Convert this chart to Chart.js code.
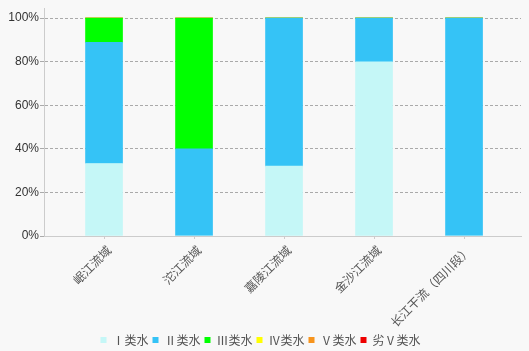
<!DOCTYPE html>
<html>
<head>
<meta charset="utf-8">
<script src="https://cdn.jsdelivr.net/npm/chart.js@4/dist/chart.umd.min.js"></script>
<style>
    html, body { margin: 0; padding: 0; background: #f8f8f8; }
    #wrap { width: 529px; height: 351px; }
</style>
</head>
<body>
<div id="wrap"><canvas id="chart"></canvas></div>
<script>
// basins along the x axis
const basins = ["岷江流域", "沱江流域", "嘉陵江流域", "金沙江流域", "长江干流（四川段）"];

// share of sections per water quality class (%)
const class1 = [33.3, 0, 32.1, 80, 0];
const class2 = [55.6, 40, 67.9, 20, 100];
const class3 = [11.1, 60, 0, 0, 0];
const class4 = [0, 0, 0, 0, 0];
const class5 = [0, 0, 0, 0, 0];
const classWorse5 = [0, 0, 0, 0, 0];

const yTicks = [0, 20, 40, 60, 80, 100];

const CJK = "'Noto Sans CJK SC', sans-serif";

function toPoints(values) {
    return values.map((v, i) => ({ x: i, y: v }));
}

function makeSet(label, values, color) {
    return {
        label,
        data: toPoints(values),
        backgroundColor: color,
        borderWidth: 0,
        barThickness: 37
    };
}

new Chart(document.getElementById("chart"), {
    type: "bar",
    data: {
        datasets: [
            makeSet("Ⅰ类水", class1, "#c5f7f7"),
            makeSet("Ⅱ类水", class2, "#35c3f6"),
            makeSet("Ⅲ类水", class3, "#00ff00"),
            makeSet("Ⅳ类水", class4, "#ffff00"),
            makeSet("Ⅴ类水", class5, "#f7941d"),
            makeSet("劣Ⅴ类水", classWorse5, "#ee0000")
        ]
    },
    options: {
        responsive: true,
        maintainAspectRatio: false,
        animation: false,
        layout: { padding: { left: 0, right: 8, top: 0, bottom: -5 } },
        plugins: {
            tooltip: { enabled: false },
            legend: {
                position: "bottom",
                labels: {
                    boxWidth: 6,
                    boxHeight: 6,
                    padding: 4,
                    color: "#555",
                    font: { family: CJK, size: 12 }
                }
            }
        },
        scales: {
            x: {
                type: "linear",
                stacked: true,
                offset: false,
                min: -0.667,
                max: 4.633,
                afterBuildTicks: (scale) => {
                    scale.ticks = basins.map((_, i) => ({ value: i }));
                },
                afterFit: (scale) => { scale.height = 94; },
                ticks: {
                    autoSkip: false,
                    minRotation: 45,
                    maxRotation: 45,
                    padding: 4,
                    labelOffset: 5,
                    color: "#555",
                    font: { family: CJK, size: 12 },
                    callback: (value) => basins[value]
                },
                grid: {
                    offset: false,
                    drawOnChartArea: false,
                    tickLength: 3,
                    color: "#ccc"
                },
                border: { color: "#ccc", width: 1 }
            },
            y: {
                stacked: true,
                min: 0,
                max: 104.57,
                afterBuildTicks: (scale) => {
                    scale.ticks = yTicks.map((v) => ({ value: v }));
                },
                afterFit: (scale) => { scale.width = 44; },
                ticks: {
                    padding: 1,
                    color: "#333",
                    font: { family: "'Liberation Sans', Arial, sans-serif", size: 12 },
                    callback: (value) => value + "%"
                },
                grid: {
                    color: "#aaa",
                    tickLength: 4
                },
                border: { color: "#ccc", width: 1, dash: [3, 2] }
            }
        }
    }
});
</script>
</body>
</html>
